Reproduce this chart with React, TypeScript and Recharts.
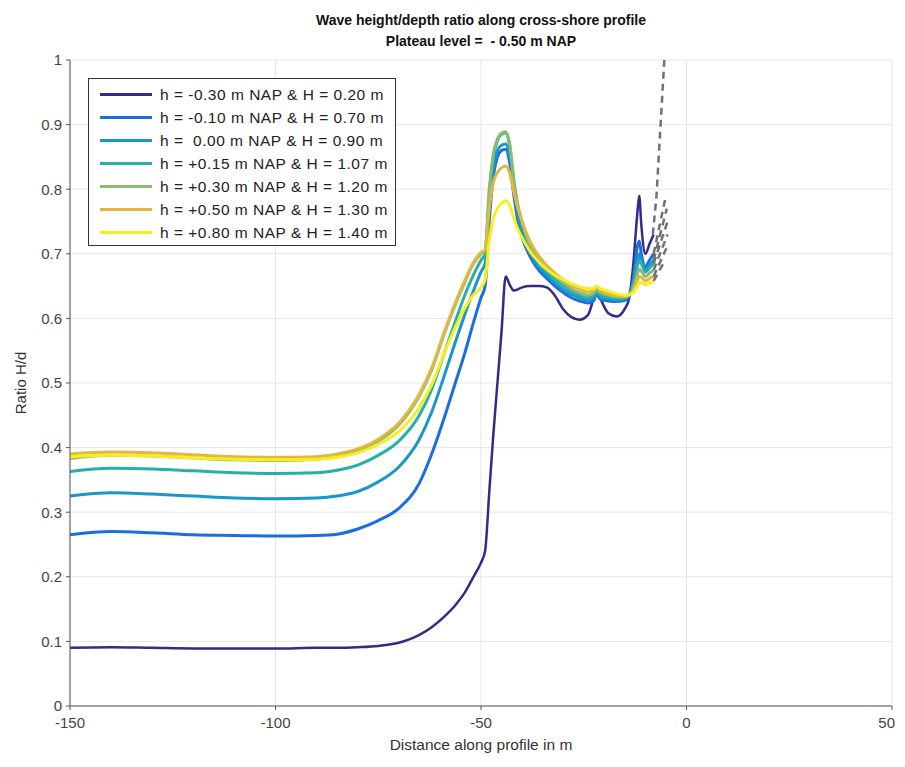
import React from 'react';
import { LineChart, Line, XAxis, YAxis, CartesianGrid } from 'recharts';

const X = [-150, -140, -130, -120, -110, -100, -90, -85, -80, -75, -70, -65, -62, -59, -56, -54, -52, -50, -49, -48, -47, -46, -45, -44, -43, -42, -41, -40, -38, -36, -34, -32, -30, -28, -26, -24, -22.5, -22, -21, -19, -17, -15, -14, -13, -12, -11.5, -11, -10, -9, -8];

const S1 = [0.09, 0.091, 0.09, 0.089, 0.089, 0.089, 0.09, 0.09, 0.091, 0.093, 0.098, 0.11, 0.122, 0.138, 0.158, 0.175, 0.198, 0.222, 0.24, 0.33, 0.42, 0.5, 0.58, 0.665, 0.652, 0.643, 0.645, 0.648, 0.65, 0.65, 0.648, 0.635, 0.614, 0.602, 0.598, 0.605, 0.635, 0.648, 0.632, 0.608, 0.603, 0.615, 0.63, 0.68, 0.76, 0.79, 0.745, 0.7, 0.715, 0.73];
const S2 = [0.265, 0.27, 0.268, 0.265, 0.264, 0.263, 0.264, 0.266, 0.274, 0.287, 0.306, 0.345, 0.39, 0.445, 0.505, 0.545, 0.59, 0.632, 0.65, 0.75, 0.82, 0.85, 0.86, 0.862, 0.84, 0.79, 0.75, 0.725, 0.695, 0.675, 0.662, 0.65, 0.64, 0.632, 0.627, 0.624, 0.628, 0.638, 0.63, 0.627, 0.626, 0.628, 0.635, 0.66, 0.71, 0.72, 0.7, 0.68, 0.69, 0.7];
const S3 = [0.325, 0.33, 0.328, 0.325, 0.322, 0.321, 0.322, 0.325, 0.332, 0.347, 0.37, 0.413, 0.455, 0.51, 0.568, 0.605, 0.64, 0.672, 0.685, 0.77, 0.83, 0.86, 0.868, 0.87, 0.85, 0.8, 0.76, 0.735, 0.7, 0.68, 0.667, 0.655, 0.645, 0.637, 0.632, 0.628, 0.632, 0.64, 0.633, 0.63, 0.628, 0.63, 0.636, 0.655, 0.69, 0.7, 0.69, 0.675, 0.682, 0.69];
const S4 = [0.363, 0.368, 0.367, 0.364, 0.361, 0.36, 0.361, 0.365, 0.373, 0.388, 0.41, 0.45, 0.49, 0.545, 0.6, 0.635, 0.665, 0.69, 0.7, 0.79, 0.85, 0.875, 0.885, 0.887, 0.865, 0.81, 0.77, 0.745, 0.708, 0.688, 0.673, 0.661, 0.651, 0.642, 0.636, 0.632, 0.636, 0.643, 0.636, 0.633, 0.631, 0.632, 0.636, 0.65, 0.68, 0.69, 0.685, 0.672, 0.678, 0.685];
const S5 = [0.383, 0.388, 0.387, 0.384, 0.381, 0.38, 0.382, 0.386, 0.395, 0.41, 0.435, 0.48, 0.52, 0.575, 0.625, 0.655, 0.683, 0.7, 0.705, 0.8, 0.855, 0.878, 0.887, 0.889, 0.87, 0.815, 0.775, 0.75, 0.712, 0.692, 0.677, 0.665, 0.655, 0.646, 0.64, 0.636, 0.64, 0.647, 0.64, 0.636, 0.633, 0.633, 0.636, 0.645, 0.668, 0.676, 0.673, 0.665, 0.67, 0.675];
const S6 = [0.39, 0.393, 0.392, 0.389, 0.386, 0.385, 0.386, 0.39, 0.398, 0.413, 0.438, 0.483, 0.523, 0.578, 0.628, 0.658, 0.685, 0.702, 0.706, 0.77, 0.81, 0.826, 0.833, 0.836, 0.825, 0.795, 0.77, 0.75, 0.718, 0.697, 0.682, 0.67, 0.66, 0.651, 0.645, 0.641, 0.643, 0.65, 0.643, 0.638, 0.635, 0.634, 0.636, 0.642, 0.658, 0.665, 0.664, 0.658, 0.662, 0.665];
const S7 = [0.386, 0.388, 0.387, 0.384, 0.382, 0.381, 0.382, 0.385, 0.392, 0.405, 0.425, 0.462, 0.497, 0.545, 0.59, 0.615, 0.635, 0.648, 0.66, 0.72, 0.755, 0.77, 0.778, 0.782, 0.775, 0.755, 0.738, 0.725, 0.703, 0.688, 0.676, 0.667, 0.66, 0.654, 0.649, 0.646, 0.646, 0.65, 0.646, 0.642, 0.638, 0.636, 0.637, 0.64, 0.65, 0.655, 0.655, 0.652, 0.655, 0.658];

const SERIES = [S1, S2, S3, S4, S5, S6, S7];
const NAMES = [
  'h = -0.30 m NAP & H = 0.20 m',
  'h = -0.10 m NAP & H = 0.70 m',
  'h =  0.00 m NAP & H = 0.90 m',
  'h = +0.15 m NAP & H = 1.07 m',
  'h = +0.30 m NAP & H = 1.20 m',
  'h = +0.50 m NAP & H = 1.30 m',
  'h = +0.80 m NAP & H = 1.40 m',
];
const COLORS = ['#352a87', '#1a6ee0', '#1a96c8', '#26b0aa', '#8abc74', '#e3b640', '#f5f01c'];

// grey dashed extensions near the shore line
const GREY_X = [
  [-8.2, -7.3, -5.4],
  [-8, -5],
  [-8, -4.8],
  [-8, -4.6],
  [-8, -4.6],
  [-8, -4.8],
  [-8, -5.2],
];
const GREY_Y = [
  [0.73, 0.79, 1.0],
  [0.7, 0.79],
  [0.69, 0.77],
  [0.685, 0.75],
  [0.675, 0.73],
  [0.665, 0.71],
  [0.658, 0.69],
];

const X_TICKS = [-150, -100, -50, 0, 50];
const Y_TICKS = [0, 0.1, 0.2, 0.3, 0.4, 0.5, 0.6, 0.7, 0.8, 0.9, 1];

const rows = X.map((x, i) => {
  const r: Record<string, number> = { x };
  SERIES.forEach((s, k) => {
    r['s' + k] = s[i];
  });
  return r;
});

const greyData = GREY_X.map((xs, k) => xs.map((x, i) => ({ x, y: GREY_Y[k][i] })));

const FONT = '"Liberation Sans", Arial, sans-serif';

// last label sits at the right edge, keep it inside the picture
const XTick = (props: any) => {
  const { x, y, payload } = props;
  const last = payload.value === X_TICKS[X_TICKS.length - 1];
  return (
    <text x={last ? x + 3 : x} y={y + 12} textAnchor={last ? 'end' : 'middle'} fill="#444" fontSize={15} fontFamily={FONT}>
      {payload.value}
    </text>
  );
};

const LegendBox = () => (
  <div
    style={{
      position: 'absolute',
      left: 80,
      top: 70,
      border: '1px solid #333',
      background: '#fff',
      padding: '4px 7px 1px 11px',
      fontFamily: FONT,
      fontSize: 15.5,
      letterSpacing: 0.5,
      color: '#222',
    }}
  >
    {NAMES.map((n, i) => (
      <div key={n} style={{ display: 'flex', alignItems: 'center', height: 23 }}>
        <div style={{ width: 52, height: 3, background: COLORS[i], marginRight: 8 }} />
        <span style={{ whiteSpace: 'pre' }}>{n}</span>
      </div>
    ))}
  </div>
);

export default function App() {
  return (
    <div style={{ position: 'relative', width: 889, height: 751, fontFamily: FONT }}>
      <div
        style={{
          position: 'absolute',
          left: 62,
          width: 822,
          top: 2,
          textAlign: 'center',
          fontWeight: 'bold',
          fontSize: 14,
          lineHeight: '21px',
          color: '#111',
          whiteSpace: 'pre',
        }}
      >
        {'Wave height/depth ratio along cross-shore profile\nPlateau level =  - 0.50 m NAP'}
      </div>
      <LineChart width={889} height={751} data={rows} margin={{ top: 52, right: 5, bottom: 23, left: 22 }}>
        <CartesianGrid stroke="#e6e6e6" strokeWidth={1} />
        <XAxis
          type="number"
          dataKey="x"
          domain={[-150, 50]}
          ticks={X_TICKS}
          interval={0}
          height={30}
          allowDataOverflow
          stroke="#555"
          tick={<XTick />}
          tickSize={4}
          tickMargin={6}
        />
        <YAxis
          type="number"
          domain={[0, 1]}
          ticks={Y_TICKS}
          interval={0}
          width={40}
          stroke="#555"
          tickFormatter={(v: number) => (v === 0 || v === 1 ? String(v) : v.toFixed(1))}
          tick={{ fill: '#444', fontSize: 15, fontFamily: FONT }}
          tickSize={4}
          tickMargin={4}
        />
        {SERIES.map((_, k) => (
          <Line
            key={'s' + k}
            dataKey={'s' + k}
            name={NAMES[k]}
            type="monotone"
            stroke={COLORS[k]}
            strokeWidth={k === 0 ? 2.5 : 3}
            dot={false}
            activeDot={false}
            isAnimationActive={false}
          />
        ))}
        {greyData.map((d, k) => (
          <Line
            key={'g' + k}
            data={d}
            dataKey="y"
            type="linear"
            stroke="#707070"
            strokeWidth={2.5}
            strokeDasharray="7 5"
            dot={false}
            activeDot={false}
            legendType="none"
            isAnimationActive={false}
          />
        ))}
      </LineChart>
      <LegendBox />
      <div
        style={{
          position: 'absolute',
          left: 62,
          width: 822,
          top: 728,
          textAlign: 'center',
          fontSize: 15.5,
          color: '#333',
        }}
      >
        Distance along profile in m
      </div>
      <div
        style={{
          position: 'absolute',
          left: 12,
          top: 375,
          transform: 'translate(-50%, -50%) rotate(-90deg)',
          fontSize: 15,
          color: '#333',
          whiteSpace: 'nowrap',
        }}
      >
        Ratio H/d
      </div>
    </div>
  );
}
